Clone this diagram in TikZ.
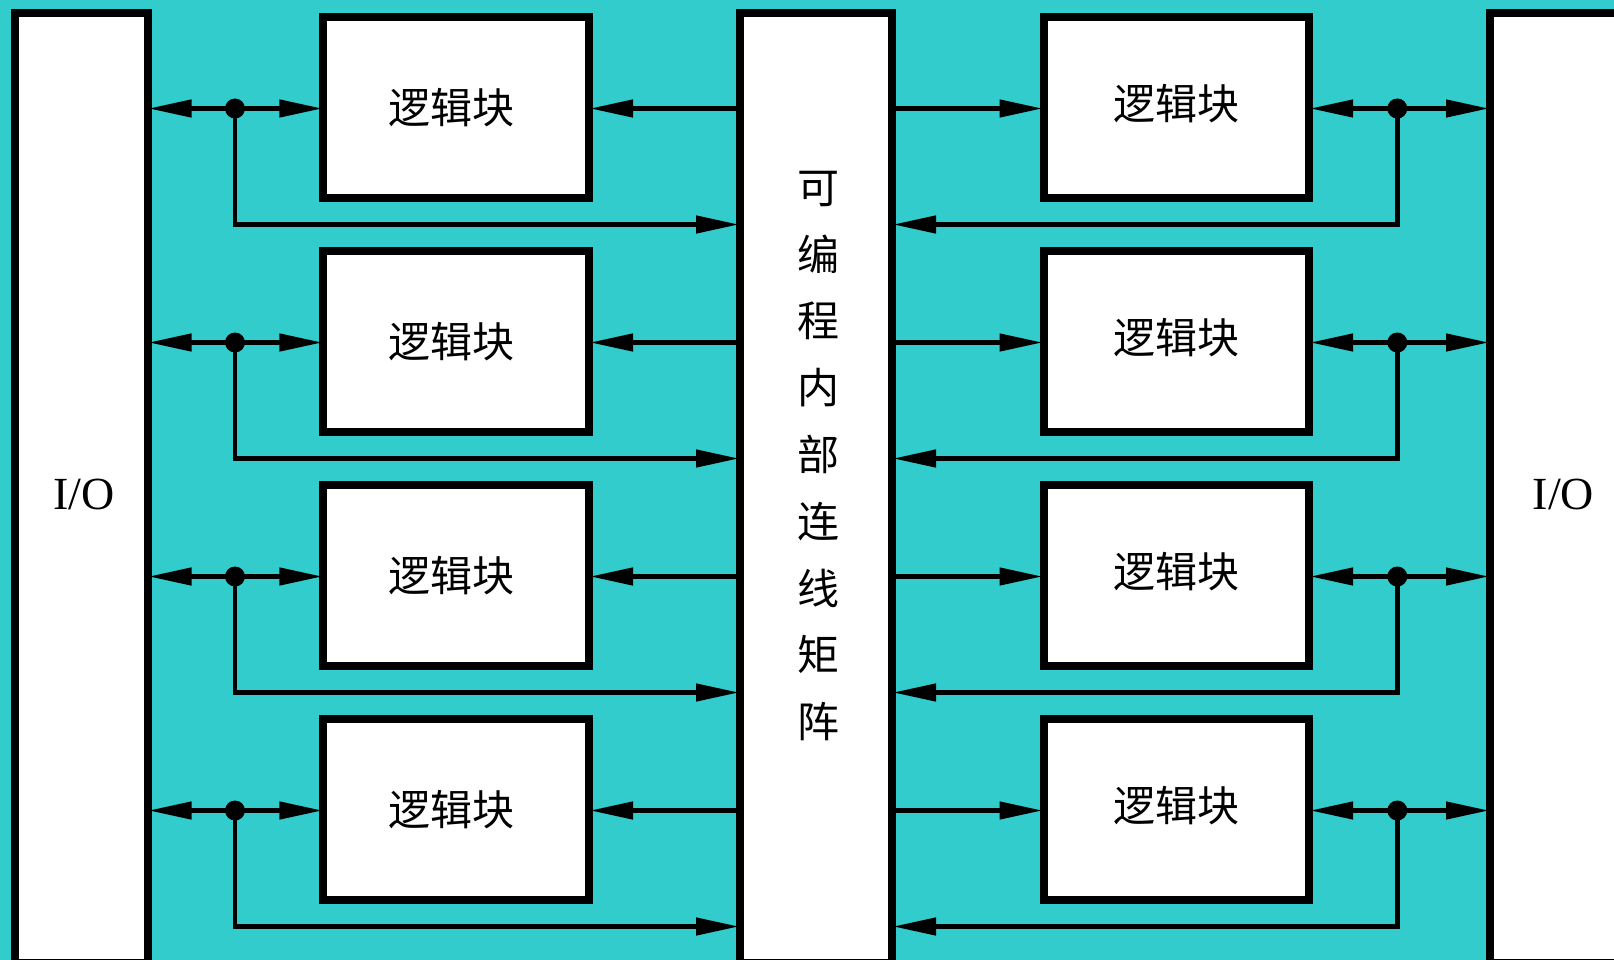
\documentclass[tikz,border=0pt]{standalone}
\usepackage{fontspec}
\setmainfont{Liberation Serif}
\newfontfamily\cjk{Noto Sans CJK SC}
\usetikzlibrary{arrows.meta,calc}
\definecolor{bgteal}{RGB}{51,204,204}
\begin{document}
\begin{tikzpicture}[x=1pt,y=-1pt,
  blk/.style={draw=black,line width=8pt,fill=white,inner sep=0pt,outer sep=4pt},
  iobox/.style={blk,minimum width=133pt,minimum height=950pt},
  midbox/.style={blk,minimum width=152pt,minimum height=950pt},
  logic/.style={blk,minimum width=265.6pt,minimum height=180.3pt,
    font=\cjk\fontsize{42}{50}\selectfont},
  conn/.style={line width=4.5pt,draw=black},
  tip/.style={conn,-{Triangle[length=43pt,width=17pt]},shorten >=-3pt},
  jdot/.style={circle,fill=black,minimum size=20pt,inner sep=0pt,outer sep=0pt},
  iolbl/.style={font=\fontsize{46}{55}\selectfont,inner sep=0pt},
  vlbl/.style={font=\cjk\fontsize{42}{66.8}\selectfont,align=center,inner sep=0pt}
]
\useasboundingbox (0,0) rectangle (1614,960);
\fill[bgteal] (0,0) rectangle (1614,960);
\clip (0,0) rectangle (1614,960);

% tall boxes
\node[iobox] (IOL) at (81,488.3) {};
\node[midbox] (C) at (816,488.3) {};
\node[iobox,minimum width=150pt] (IOR) at (1565,488.3) {};
\node[iolbl] (tIOL) at (84,494) {I/O};
\node[iolbl] (tIOR) at (1563.5,494) {I/O};
\node[vlbl] (tC) at (818,456) {可\\编\\程\\内\\部\\连\\线\\矩\\阵};

\foreach \i/\y in {1/107.5,2/341.5,3/575.5,4/809.5}{
  % left side
  \node[logic] (L\i) at (456.2,\y) {逻辑块\hspace*{10pt}};
  \node[jdot] (dl\i) at (235,\y+1) {};
  \coordinate (fl\i) at ($(C.west |- dl\i)+(0,116)$);
  \draw[tip] (dl\i.center) -- (dl\i -| IOL.east);
  \draw[tip] (dl\i.center) -- (dl\i -| L\i.west);
  \draw[tip] (dl\i.center) |- (fl\i);
  \draw[tip] (C.west |- dl\i) -- (L\i.east |- dl\i);
  % right side
  \node[logic] (R\i) at (1176.3,\y) {\raisebox{4pt}[\height][\depth]{逻辑块}};
  \node[jdot] (dr\i) at (1397.3,\y+1) {};
  \coordinate (fr\i) at ($(C.east |- dr\i)+(0,116)$);
  \draw[tip] (dr\i.center) -- (dr\i -| R\i.east);
  \draw[tip] (dr\i.center) -- (dr\i -| IOR.west);
  \draw[tip] (dr\i.center) |- (fr\i);
  \draw[tip] (C.east |- dr\i) -- (R\i.west |- dr\i);
}
\end{tikzpicture}
\end{document}
